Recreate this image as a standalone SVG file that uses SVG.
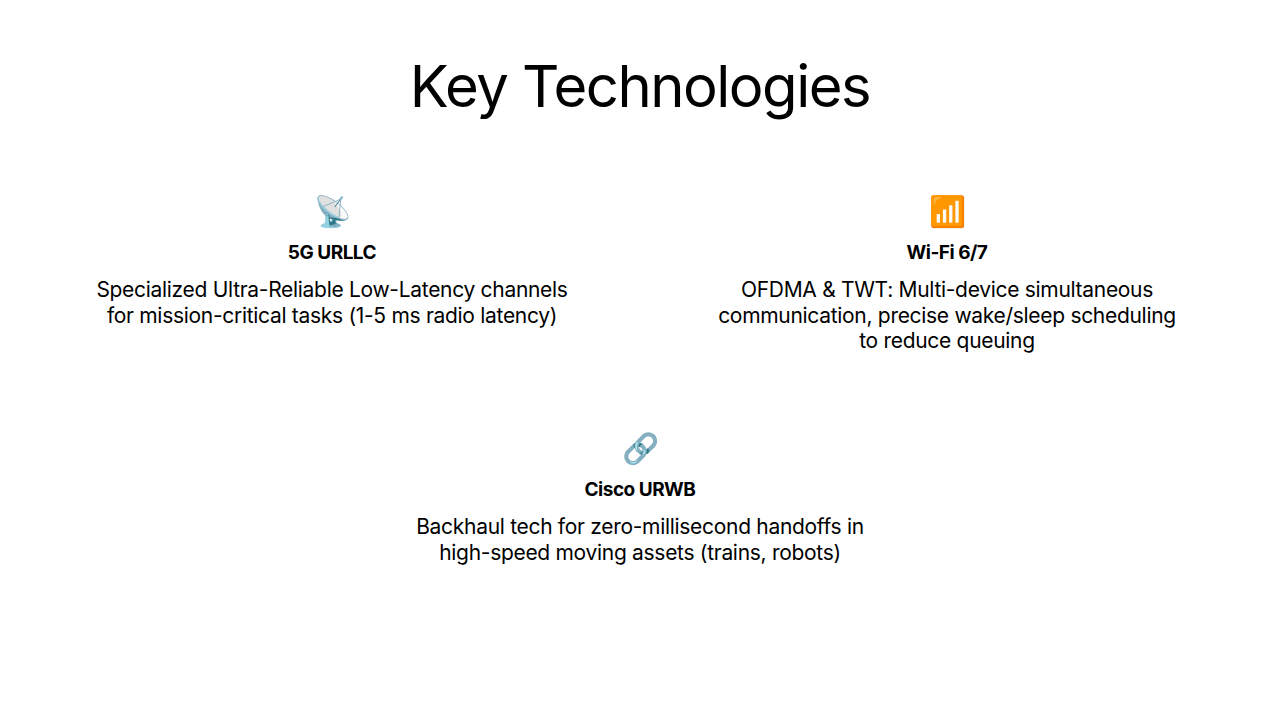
<svg xmlns="http://www.w3.org/2000/svg" width="1280" height="720" viewBox="0 0 1280 720">
<style>
text{font-family:Inter,"Noto Sans",sans-serif;fill:#000;text-anchor:middle}
.t{font-size:58px;font-weight:400;letter-spacing:-1.5px}
.i{font-size:30px}
.h{font-size:19px;font-weight:700;letter-spacing:-0.5px}
.b{font-size:21px;letter-spacing:-0.3px}
</style>
<rect width="1280" height="720" fill="#fff"/>
<text class="t" x="640" y="107">Key Technologies</text>
<g id="n5g">
<text class="i" x="332" y="222">📡</text>
<text class="h" x="332" y="259">5G URLLC</text>
<text class="b" x="332" y="297">Specialized Ultra-Reliable Low-Latency channels</text>
<text class="b" x="332" y="323">for mission-critical tasks (1-5 ms radio latency)</text>
</g>
<g id="nwifi">
<text class="i" x="947" y="222">📶</text>
<text class="h" x="947" y="259">Wi-Fi 6/7</text>
<text class="b" x="947" y="297">OFDMA &amp; TWT: Multi-device simultaneous</text>
<text class="b" x="947" y="323">communication, precise wake/sleep scheduling</text>
<text class="b" x="947" y="348">to reduce queuing</text>
</g>
<g id="ncisco">
<text class="i" x="640" y="459">🔗</text>
<text class="h" x="640" y="496">Cisco URWB</text>
<text class="b" x="640" y="534">Backhaul tech for zero-millisecond handoffs in</text>
<text class="b" x="640" y="560">high-speed moving assets (trains, robots)</text>
</g>
<g id="connectors"/>
</svg>
